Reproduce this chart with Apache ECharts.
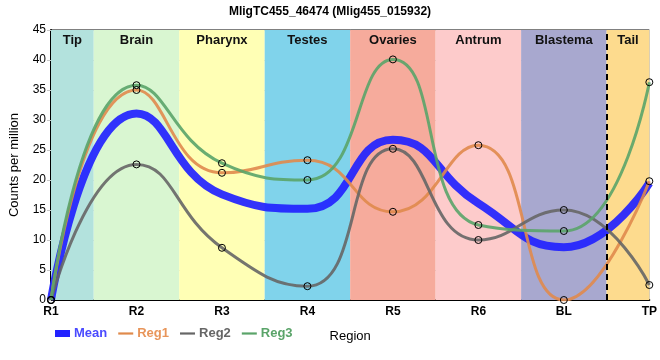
<!DOCTYPE html>
<html>
<head>
<meta charset="utf-8">
<script src="https://cdn.jsdelivr.net/npm/echarts@6/dist/echarts.min.js"></script>
<style>html,body{margin:0;padding:0;background:#fff}#c{width:660px;height:360px}</style>
</head>
<body>
<div id="c"></div>
<script>
const categories = ['R1','R2','R3','R4','R5','R6','BL','TP'];
const meanValues = [0, 31.1, 17.6, 15.2, 26.7, 16.1, 8.8, 19.5];
const reg1Values = [0, 35.0, 21.2, 23.3, 14.7, 25.8, 0, 19.8];
const reg2Values = [0, 22.6, 8.7, 2.3, 25.2, 10.0, 15.0, 2.5];
const reg3Values = [0, 35.8, 22.8, 20.0, 40.1, 12.5, 11.5, 36.3];
const bandNames = ['Tip','Brain','Pharynx','Testes','Ovaries','Antrum','Blastema','Tail'];
const bandStarts = [0, 0.5, 1.5, 2.5, 3.5, 4.5, 5.5, 6.5];
const bandEnds = [0.5, 1.5, 2.5, 3.5, 4.5, 5.5, 6.5, 7];
const bandColors = ['#b3e2dd','#d9f6d1','#ffffb5','#80d3eb','#f6ab9c','#fdcbcb','#a8a8cf','#fddb8e'];
const yTicks = {min: 0, max: 45, interval: 5};

const toPairs = arr => arr.map((v, i) => [i, v]);
const colors = {Mean: '#2222ff', Reg1: '#e08a4c', Reg2: '#666666', Reg3: '#5aa469'};

const chart = echarts.init(document.getElementById('c'), null, {renderer: 'canvas'});
const pointStyle = {color: 'rgba(0,0,0,0)', borderColor: '#000', borderWidth: 1};
function regSeries(name, values) {
  return {
    name, type: 'line', smooth: 0.5, data: toPairs(values),
    symbol: 'circle', symbolSize: 7, showAllSymbol: true,
    lineStyle: {color: colors[name], width: 3, opacity: 0.9},
    itemStyle: pointStyle, z: 3
  };
}
chart.setOption({
  animation: false,
  title: {
    text: 'MligTC455_46474 (Mlig455_015932)', left: 'center', top: 1,
    textStyle: {fontSize: 12, fontWeight: 'bold', color: '#000', fontFamily: 'Liberation Sans'}
  },
  legend: {
    left: 50, top: 322, itemWidth: 15, itemHeight: 8, itemGap: 11,
    textStyle: {fontSize: 13, fontWeight: 'bold', fontFamily: 'Liberation Sans', padding: [0, 0, 0, -1]},
    data: [
      {name: 'Mean', icon: 'path://M0,0L15,0L15,7L0,7Z', itemStyle: {color: colors.Mean, borderWidth: 0}, textStyle: {color: '#4a4aff'}},
      {name: 'Reg1', icon: 'path://M0,0L15,0L15,2.2L0,2.2Z', itemStyle: {color: colors.Reg1, borderWidth: 0}, textStyle: {color: '#e8955a'}},
      {name: 'Reg2', icon: 'path://M0,0L15,0L15,2.2L0,2.2Z', itemStyle: {color: colors.Reg2, borderWidth: 0}, textStyle: {color: '#666'}},
      {name: 'Reg3', icon: 'path://M0,0L15,0L15,2.2L0,2.2Z', itemStyle: {color: colors.Reg3, borderWidth: 0}, textStyle: {color: '#5aa469'}}
    ]
  },
  grid: {left: 50, right: 10, top: 30, bottom: 60, show: true, borderColor: '#000', borderWidth: 1, backgroundColor: 'transparent'},
  xAxis: {
    type: 'value', min: 0, max: 7, interval: 1,
    name: 'Region', nameLocation: 'middle', nameGap: 30,
    nameTextStyle: {fontSize: 13, color: '#000', fontFamily: 'Liberation Sans'},
    axisLine: {lineStyle: {color: '#000', width: 2}},
    axisTick: {show: false},
    axisLabel: {formatter: v => categories[v], fontSize: 12, fontWeight: 'bold', color: '#000', margin: 6, fontFamily: 'Liberation Sans'},
    splitLine: {show: true, lineStyle: {color: '#c8c8c8', width: 1}}
  },
  yAxis: {
    type: 'value', min: yTicks.min, max: yTicks.max, interval: yTicks.interval,
    name: 'Counts per million', nameLocation: 'middle', nameGap: 30,
    nameTextStyle: {fontSize: 13, color: '#000', fontFamily: 'Liberation Sans'},
    axisLine: {show: true, lineStyle: {color: '#000', width: 2}},
    axisTick: {show: true, length: 4, lineStyle: {color: '#c8c8c8'}},
    axisLabel: {fontSize: 12, color: '#000', margin: 5, fontFamily: 'Liberation Sans'},
    splitLine: {show: true, lineStyle: {color: '#c8c8c8', width: 1}}
  },
  series: [
    {
      name: 'bands', type: 'line', data: [], z: -1, silent: true,
      markArea: {
        silent: true,
        label: {show: true, position: 'insideTop', distance: 4, fontSize: 13, fontWeight: 'bold', color: '#111', fontFamily: 'Liberation Sans'},
        data: bandNames.map((n, i) => [
          {name: n, xAxis: bandStarts[i], itemStyle: {color: bandColors[i], opacity: 1}},
          {xAxis: bandEnds[i]}
        ])
      },
      markLine: {
        silent: true, symbol: 'none', label: {show: false},
        lineStyle: {color: '#000', width: 2, type: [6, 4]},
        data: [{xAxis: bandEnds[6]}]
      }
    },
    {
      name: 'Mean', type: 'line', smooth: 0.5, data: toPairs(meanValues),
      symbol: 'none', lineStyle: {color: colors.Mean, width: 8, opacity: 0.92},
      itemStyle: {color: colors.Mean}, z: 2
    },
    regSeries('Reg1', reg1Values),
    regSeries('Reg2', reg2Values),
    regSeries('Reg3', reg3Values)
  ]
});
</script>
</body>
</html>
